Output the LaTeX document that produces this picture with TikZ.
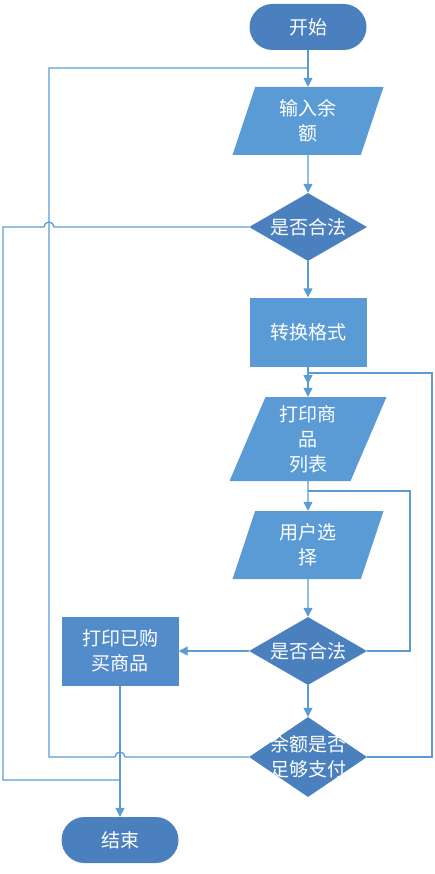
\documentclass[tikz,border=0pt]{standalone}
\usepackage{fontspec}
\newfontfamily\cjk{Noto Sans CJK SC}
\usetikzlibrary{arrows.meta,shapes.geometric}

\definecolor{darkblue}{RGB}{74,128,190}
\definecolor{lightblue}{RGB}{91,155,213}
\definecolor{midblue}{RGB}{82,140,203}
\definecolor{linkblue}{RGB}{91,155,213}

\tikzset{
    base/.style={text=white, inner sep=0pt, align=center,
        font=\cjk\fontsize{19}{25}\selectfont},
    terminal/.style={base, fill=darkblue, rounded corners=23pt,
        minimum width=117pt, minimum height=46pt},
    iobox/.style={base, fill=lightblue, trapezium, trapezium left angle=62,
        trapezium right angle=118, trapezium stretches body=true,
        minimum width=151pt, minimum height=68pt},
    procbox/.style={base, fill=lightblue, minimum width=117pt, minimum height=69pt},
    decision/.style={base, fill=darkblue, diamond, inner sep=-10pt,
        minimum width=118pt, minimum height=68pt},
    link/.style={draw=linkblue, line width=1.3pt},
    arrow/.style={link, -{Triangle[length=9pt, width=9pt]}}
}

\begin{document}
\begin{tikzpicture}[x=1pt, y=-1pt]
    \useasboundingbox (0,0) rectangle (434,874);

    \node[terminal] (start) at (308,27) {开始};
    \node[iobox] (input) at (308,121) {输入余\\额};
    \node[decision] (check1) at (308,227) {是否合法};
    \node[procbox] (convert) at (308,332) {转换格式};
    \node[iobox, minimum height=84pt, minimum width=157pt] (list) at (308,439) {打印商\\品\\列表};
    \node[iobox] (choose) at (308,545) {用户选\\择};
    \node[decision] (check2) at (308,651) {是否合法};
    \node[procbox, fill=midblue] (bought) at (120,651) {打印已购\\买商品};
    \node[decision, minimum height=80pt] (enough) at (308,757) {余额是否\\足够支付};
    \node[terminal] (stop) at (120,840) {结束};

    \coordinate (listin) at (308,384);

    % main line
    \draw[arrow] (start) -- (input);
    \draw[arrow] (input) -- (check1);
    \draw[arrow] (check1) -- (convert);
    \draw[arrow] (convert) -- (list);
    \draw[arrow] (list) -- (choose);
    \draw[arrow] (choose) -- (check2);
    \draw[arrow] (check2) -- (enough);
    \draw[arrow] (check2) -- (bought);
    \draw[arrow] (bought) -- (stop);

    % loops back
    \draw[link] (check1.west) -- (54,227) arc[start angle=0, end angle=-180, radius=5]
        -- (3,227) -- (3,780) -- (bought.south |- 0,780);
    \draw[link] (enough.west) -- (125,757) arc[start angle=0, end angle=-180, radius=5]
        -- (49,757) -- (49,68) -- (start.south |- 0,68);
    \draw[arrow] (enough.east) -- (432,757) -- (432,373) -- (308,373) -- (listin);
    \draw[link] (check2.east) -- (410,651) -- (410,491) -- (list.south |- 0,491);
\end{tikzpicture}
\end{document}
